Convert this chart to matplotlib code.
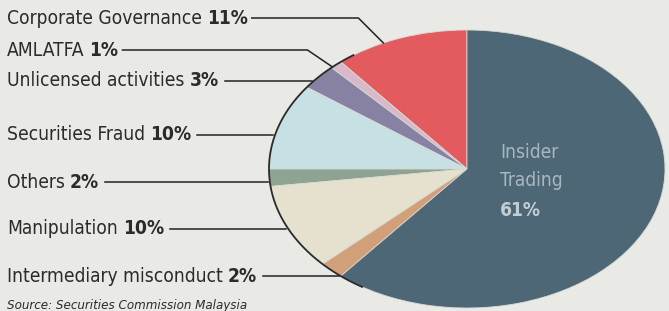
import numpy as np
import matplotlib
matplotlib.use("Agg")
import matplotlib.pyplot as plt
from matplotlib import font_manager

# ── data ───────────────────────────────────────────────────────────────
names = ["Corporate Governance", "AMLATFA", "Unlicensed activities",
         "Securities Fraud", "Others", "Manipulation",
         "Intermediary misconduct", "Insider Trading"]
shares = [11, 1, 3, 10, 2, 10, 2, 61]
colors = ["#e35b5e", "#d9b9c9", "#8781a3", "#c6e0e3",
          "#8fa392", "#e6e1cf", "#d2a078", "#4e6776"]
source = "Source: Securities Commission Malaysia"

# look for a condensed face if one is installed
cond = [f for f in font_manager.fontManager.ttflist
        if ("Narrow" in f.name or "Condensed" in f.name
            or f.stretch in ("condensed", "semi-condensed", 400, 500))
        and f.style == "normal"]
if cond:
    FONT, STRETCH = cond[0].name, cond[0].stretch
else:
    FONT, STRETCH = "Liberation Sans", "normal"

W, H = 669, 311
BG = "#e9eae5"

fig = plt.figure(figsize=(W / 100, H / 100), dpi=100)
fig.patch.set_facecolor(BG)

# ── elliptical pie ─────────────────────────────────────────────────────
ax = fig.add_axes([269 / W, 1 - 308 / H, 396 / W, 278 / H])
wedges, _ = ax.pie(shares, colors=colors, startangle=90, counterclock=True,
                   wedgeprops=dict(edgecolor="#d8d9d2", linewidth=0.6))
ax.set_aspect("auto")
ax.set_xlim(-1, 1)
ax.set_ylim(-1, 1)

# overlay in pixel coords for labels and leader lines
ov = fig.add_axes([0, 0, 1, 1], zorder=5)
ov.set_xlim(0, W)
ov.set_ylim(H, 0)
ov.axis("off")
ov.patch.set_alpha(0)

renderer = fig.canvas.get_renderer()
kw = dict(family=FONT, fontstretch=STRETCH, color="#2b2b2b",
          va="center", ha="left")

# pick a size so the first label spans about the same width as the print
probe = ov.text(0, -50, names[0] + " 11%", fontsize=16, **kw)
wpx = probe.get_window_extent(renderer).width
probe.remove()
FS = min(16.5, 16 * 241 / wpx)


def edge_x(py):
    # left edge of the ellipse at pixel row py
    yd = ax.transData.inverted().transform((0, H - py))[1]
    xd = -np.sqrt(max(0.0, 1 - yd ** 2))
    return ax.transData.transform((xd, yd))[0]


def right_of(t):
    return ov.transData.inverted().transform(
        (t.get_window_extent(renderer).x1, 0))[0]


label_y = [18, 50, 81, 135, 182, 229, 276]
bend_to = {0: 43, 1: 67}   # leader lines that kink down to the rim

for i, py in enumerate(label_y):
    t = ov.text(7, py, names[i], fontsize=FS, **kw)
    p = ov.text(right_of(t) + 5, py, f"{shares[i]}%", fontsize=FS,
                fontweight="bold", **kw)
    x2 = right_of(p)
    if i in bend_to:
        ty = bend_to[i]
        tx = edge_x(ty)
        ov.plot([x2 + 4, tx - 25, tx], [py, py, ty], color="#222", lw=1.1)
    else:
        ov.plot([x2 + 6, edge_x(py) - 2], [py, py], color="#222", lw=1.1)

# dark rim on the left side of the pie
th = np.radians(np.linspace(125, 238, 100))
ax.plot(np.cos(th), np.sin(th), color="#2a2a2a", lw=1.3, clip_on=False)

# label inside the big slice
cx = ax.transData.transform((0, 0))[0]
for word, py in zip(names[-1].split(), [152, 180]):
    ov.text(cx + 33, py, word, fontsize=FS, family=FONT, fontstretch=STRETCH,
            color="#a8b7c0", va="center", ha="left")
ov.text(cx + 33, 210, f"{shares[-1]}%", fontsize=FS, family=FONT,
        fontstretch=STRETCH, fontweight="bold", color="#c2cdd3",
        va="center", ha="left")

ov.text(7, 299, source, fontsize=9.5, family=FONT, fontstretch=STRETCH,
        style="italic", color="#2b2b2b", va="top", ha="left")

fig.savefig("out.png", dpi=100, facecolor=BG)
